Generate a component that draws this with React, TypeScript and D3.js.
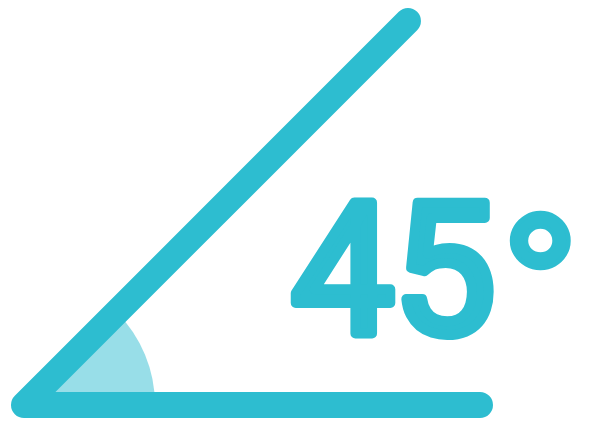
import { useEffect, useRef } from "react";
import * as d3 from "d3";

// angle icon values
const angleDeg = [45];
const armLengths = [543, 456]; // diagonal arm, base arm
const wedgeRadius = [131];
const labelParts = ["45", "°"];

const W = 589;
const H = 423;
const vertex = { x: 24, y: 405 };
const mainColor = "#2dbdd0";
const wedgeColor = "#98dee8";

const App = () => {
  const ref = useRef(null);

  useEffect(() => {
    const svg = d3.select(ref.current).html("");

    const toRad = d3.scaleLinear().domain([0, 180]).range([0, Math.PI]);
    const a = toRad(angleDeg[0]);

    // wedge (d3.arc: 0 = up, clockwise)
    const arc = d3
      .arc()
      .innerRadius(0)
      .outerRadius(wedgeRadius[0])
      .startAngle(Math.PI / 2 - a)
      .endAngle(Math.PI / 2);

    svg
      .append("path")
      .attr("transform", `translate(${vertex.x},${vertex.y})`)
      .attr("d", arc({} as any))
      .attr("fill", wedgeColor);

    const pts: [number, number][] = [
      [vertex.x + armLengths[0] * Math.cos(a), vertex.y - armLengths[0] * Math.sin(a)],
      [vertex.x, vertex.y],
      [vertex.x + armLengths[1], vertex.y],
    ];

    svg
      .append("path")
      .attr("d", d3.line()(pts))
      .attr("fill", "none")
      .attr("stroke", mainColor)
      .attr("stroke-width", 26)
      .attr("stroke-linecap", "round")
      .attr("stroke-linejoin", "round");

    // number: regular weight thickened with a round stroke for soft ends
    const num = svg
      .append("text")
      .attr("x", 291)
      .attr("y", 333)
      .attr("font-family", "Roboto")
      .attr("font-weight", 400)
      .attr("font-size", 184)
      .attr("fill", mainColor)
      .attr("stroke", mainColor)
      .attr("stroke-width", 10)
      .attr("stroke-linejoin", "round");
    num.append("tspan").text(labelParts[0][0]);
    num.append("tspan").attr("dx", -2).text(labelParts[0][1]);

    // degree sign, stretched into a ring
    const degSize = 150;
    svg
      .append("text")
      .attr("transform", "translate(540,242) scale(1.52,1.45)")
      .attr("x", 0)
      .attr("y", 0.59 * degSize)
      .attr("text-anchor", "middle")
      .attr("font-family", "Roboto")
      .attr("font-weight", 400)
      .attr("font-size", degSize)
      .attr("fill", mainColor)
      .attr("stroke", mainColor)
      .attr("stroke-width", 3)
      .text(labelParts[1]);
  }, []);

  return (
    <svg
      ref={ref}
      width={W}
      height={H}
      style={{ position: "absolute", left: 0, top: 0, background: "#fff" }}
    ></svg>
  );
};

export default App;
